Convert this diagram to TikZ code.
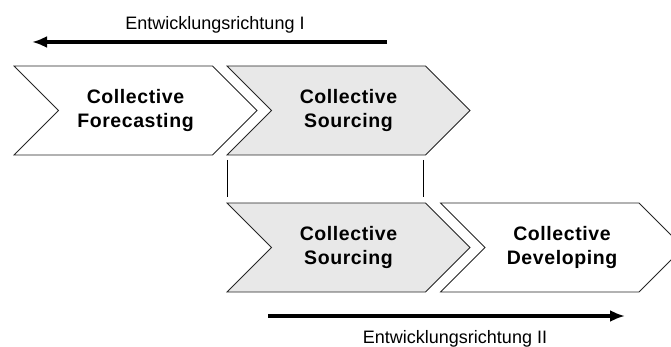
\documentclass[tikz,border=0pt]{standalone}
\usepackage{fontspec}
\setmainfont{Liberation Sans}
\usetikzlibrary{arrows.meta,shapes.symbols}

\begin{document}
\begin{tikzpicture}[x=1pt,y=-1pt,>={Latex[length=15pt,width=12pt]},
  phase/.style={signal,signal to=east,signal from=west,draw=black!85,line width=0.8pt,
    minimum width=243pt,minimum height=89pt,inner sep=0pt,outer sep=0pt,align=center,
    font=\fontsize{19.5}{23.5}\selectfont\bfseries\addfontfeatures{LetterSpace=3}},
  grau/.style={fill=black!9}]
\useasboundingbox (0,0) rectangle (671,347);

% Entwicklungsrichtung I
\coordinate (eIa) at (387,42);
\coordinate (eIb) at (32,42);
\draw[->,line width=4pt] (eIa)--(eIb);
\node (txtI) at (215,30) [anchor=base,font=\fontsize{18}{20}\selectfont] {Entwicklungsrichtung I};

% obere Reihe
\node (fcst) at (135.5,110.5) [phase] {Collective\\Forecasting};
\node (srcA) at (348.5,110.5) [phase,grau] {Collective\\Sourcing};

% Verbindung
\coordinate (vLo) at (227,160);
\coordinate (vLu) at (227,197);
\coordinate (vRo) at (423,160);
\coordinate (vRu) at (423,197);
\draw[line width=0.8pt] (vLo)--(vLu);
\draw[line width=0.8pt] (vRo)--(vRu);

% untere Reihe
\node (srcB) at (348.5,247.5) [phase,grau] {Collective\\Sourcing};
\node (dev) at (562,247.5) [phase] {Collective\\Developing};

% Entwicklungsrichtung II
\coordinate (eIIa) at (268,316);
\coordinate (eIIb) at (625,316);
\draw[->,line width=4pt] (eIIa)--(eIIb);
\node (txtII) at (455,343) [anchor=base,font=\fontsize{18}{20}\selectfont] {Entwicklungsrichtung II};

\end{tikzpicture}
\end{document}
